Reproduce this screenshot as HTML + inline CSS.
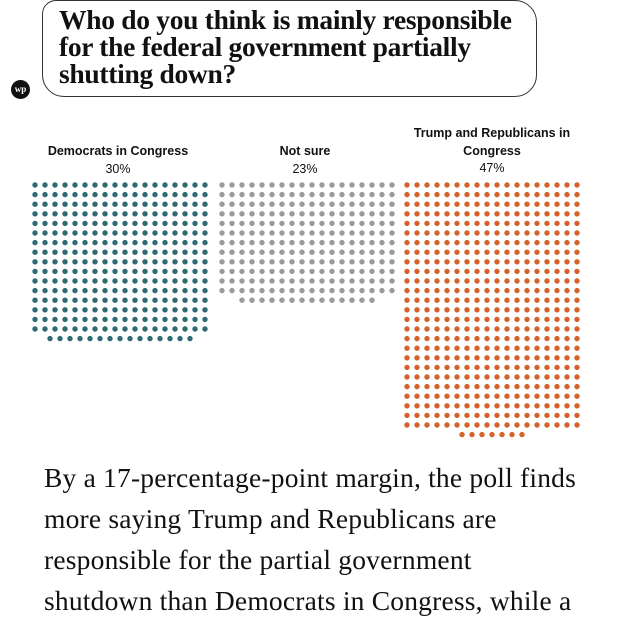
<!DOCTYPE html>
<html><head><meta charset="utf-8"><style>
body{margin:0;width:640px;height:625px;background:#fff;overflow:hidden;position:relative;font-family:"Liberation Sans",sans-serif}
#box{position:absolute;left:42px;top:0px;width:493px;height:95px;border:1.5px solid #333;border-radius:22px;border-top-left-radius:14px}
#title{position:absolute;left:59px;top:6px;font:bold 27.5px/27px "Liberation Serif",serif;color:#111;letter-spacing:-0.3px;white-space:nowrap}
#logo{position:absolute;left:11px;top:80px;width:19px;height:19px;border-radius:50%;background:#111;color:#fff;font:bold 9px/19px "Liberation Serif",serif;text-align:center}
.lbl{position:absolute;font-size:12.5px;font-weight:bold;text-align:center;color:#111;line-height:17.5px}
.pct{font-weight:normal}
#body{position:absolute;left:44px;top:457px;width:590px;font:27.5px/41px "Liberation Serif",serif;color:#111;white-space:nowrap;letter-spacing:0.2px}
svg{position:absolute;left:0;top:0}
</style></head><body>
<div id="box"></div>
<div id="title">Who do you think is mainly responsible<br>for the federal government partially<br>shutting down?</div>
<div id="logo">wp</div>
<div class="lbl" style="left:23px;top:143px;width:190px">Democrats in Congress<br><span class="pct">30%</span></div>
<div class="lbl" style="left:210px;top:143px;width:190px">Not sure<br><span class="pct">23%</span></div>
<div class="lbl" style="left:397px;top:125px;width:190px">Trump and Republicans in<br>Congress<br><span class="pct">47%</span></div>
<svg id="chart" width="640" height="625"></svg>
<div id="body">By a 17-percentage-point margin, the poll finds<br>more saying Trump and Republicans are<br>responsible for the partial government<br>shutdown than Democrats in Congress, while a</div>
<script>
const categories=["Democrats in Congress","Not sure","Trump and Republicans in Congress"];
const percents=[30,23,47];
const dotCounts=[303,230,475];
const colors=["#2d6a72","#9a9a9a","#d4622a"];
const groupLeft=[35,222,407], cols=18, dx=10.0, dy=9.6, top0=185;
const svg=document.getElementById('chart');
dotCounts.forEach((n,g)=>{
  const full=Math.floor(n/cols), rem=n%cols;
  for(let i=0;i<n;i++){
    const r=Math.floor(i/cols), c=i%cols;
    let x=groupLeft[g]+c*dx;
    if(r===full) x+= (cols-rem)*dx/2;
    const el=document.createElementNS('http://www.w3.org/2000/svg','circle');
    el.setAttribute('cx',x);el.setAttribute('cy',top0+r*dy);el.setAttribute('r',2.7);
    el.setAttribute('fill',colors[g]);
    
    
    svg.appendChild(el);
  }
});
</script>
</body></html>
